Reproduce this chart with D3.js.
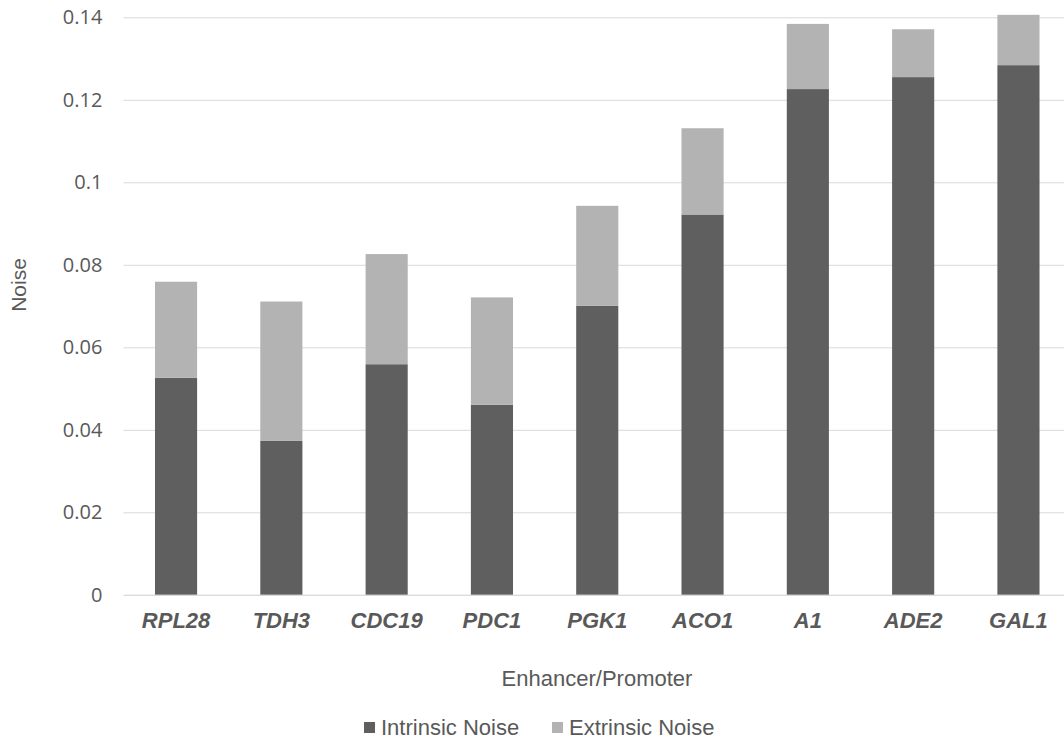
<!DOCTYPE html>
<html>
<head>
<meta charset="utf-8">
<script src="https://cdn.jsdelivr.net/npm/d3@7"></script>
<style>
  html, body { margin: 0; padding: 0; background: #ffffff; }
  svg { display: block; }
</style>
</head>
<body>
<svg id="chart" width="1064" height="740"></svg>
<script>
// Noise decomposition per enhancer/promoter
const categories = ["RPL28", "TDH3", "CDC19", "PDC1", "PGK1", "ACO1", "A1", "ADE2", "GAL1"];
const intrinsicNoise = [0.0526, 0.0373, 0.0559, 0.0461, 0.0701, 0.0922, 0.1226, 0.1255, 0.1284];
const extrinsicNoise = [0.0233, 0.0338, 0.0267, 0.0260, 0.0242, 0.0209, 0.0158, 0.0116, 0.0122];
const yTicks = [0, 0.02, 0.04, 0.06, 0.08, 0.1, 0.12, 0.14];
const seriesNames = ["Intrinsic Noise", "Extrinsic Noise"];
const seriesColors = ["#5f5f5f", "#b3b3b3"];

const svg = d3.select("#chart");
const plot = { left: 123.4, right: 1071.1, top: 17.3, bottom: 594.8 };
const textColor = "#595959";

const x = d3.scaleBand()
  .domain(categories)
  .range([plot.left, plot.right])
  .paddingInner(0.6)
  .paddingOuter(0.3);

const y = d3.scaleLinear()
  .domain([0, 0.14])
  .range([plot.bottom, plot.top]);

// Horizontal gridlines with tick labels
const yAxis = svg.append("g")
  .attr("transform", `translate(${plot.left},0)`)
  .call(d3.axisLeft(y)
    .tickValues(yTicks)
    .tickFormat(d3.format("~g"))
    .tickSize(-(plot.right - plot.left))
    .tickPadding(21));
yAxis.select(".domain").remove();
yAxis.selectAll(".tick line").attr("stroke", "#d9d9d9").attr("stroke-width", 1);
yAxis.selectAll(".tick text")
  .attr("fill", textColor)
  .style("font-family", "'Open Sans', sans-serif")
  .style("font-size", "20px");

// Stacked bars
const rows = categories.map((c, i) => ({ cat: c, intrinsic: intrinsicNoise[i], extrinsic: extrinsicNoise[i] }));
const stack = d3.stack().keys(["intrinsic", "extrinsic"]);
const layers = stack(rows);

svg.append("g").selectAll("g")
  .data(layers)
  .join("g")
  .attr("fill", (d, i) => seriesColors[i])
  .selectAll("rect")
  .data(d => d)
  .join("rect")
  .attr("x", d => x(d.data.cat))
  .attr("width", x.bandwidth())
  .attr("y", d => y(d[1]))
  .attr("height", d => y(d[0]) - y(d[1]));

// Category axis
const xAxis = svg.append("g")
  .attr("transform", `translate(0,${plot.bottom})`)
  .call(d3.axisBottom(x).tickSize(0).tickPadding(18));
xAxis.select(".domain").attr("stroke", "#d9d9d9");
xAxis.selectAll(".tick text")
  .attr("fill", textColor)
  .style("font-family", "'Liberation Sans', Arial, sans-serif")
  .style("font-size", "22px")
  .style("font-weight", "bold")
  .style("font-style", "italic");

// Axis titles
svg.append("text")
  .attr("transform", "translate(26,285) rotate(-90)")
  .attr("text-anchor", "middle")
  .attr("fill", textColor)
  .style("font-family", "'Liberation Sans', Arial, sans-serif")
  .style("font-size", "21px")
  .text("Noise");

svg.append("text")
  .attr("x", 597)
  .attr("y", 686)
  .attr("text-anchor", "middle")
  .attr("fill", textColor)
  .style("font-family", "'Liberation Sans', Arial, sans-serif")
  .style("font-size", "22px")
  .text("Enhancer/Promoter");

// Legend
const legendX = [364, 552];
const legend = svg.append("g").selectAll("g")
  .data(seriesNames)
  .join("g")
  .attr("transform", (d, i) => `translate(${legendX[i]},722)`);
legend.append("rect")
  .attr("width", 11).attr("height", 11)
  .attr("fill", (d, i) => seriesColors[i]);
legend.append("text")
  .attr("x", 17)
  .attr("y", 13)
  .attr("fill", textColor)
  .style("font-family", "'Liberation Sans', Arial, sans-serif")
  .style("font-size", "22px")
  .text(d => d);
</script>
</body>
</html>
